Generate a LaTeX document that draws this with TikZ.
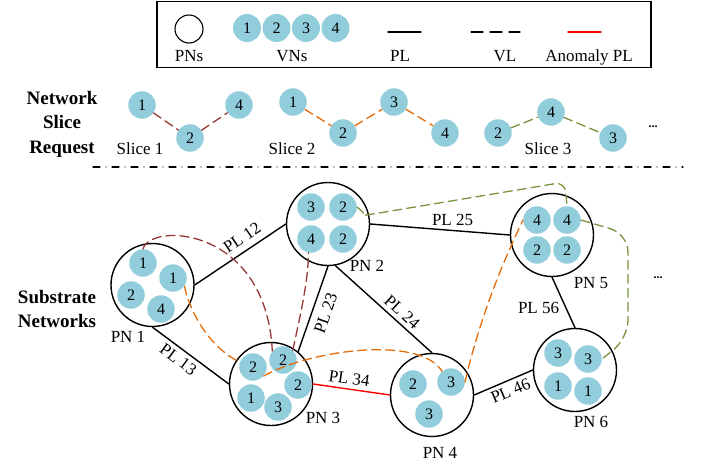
\documentclass[tikz,border=0pt]{standalone}
\usepackage{amsmath, amssymb}
\usepackage{fontspec}
\setmainfont{Liberation Serif}
\usepackage{tikz}

\begin{document}
\begin{tikzpicture}
		[x=1pt,y=-1pt,line cap=round,
		%Styles
		physical node/.style={circle,draw,line width=1.4pt,inner sep=0pt,minimum size=83pt},
		virtual node/.style={circle,fill=vnblue,inner sep=0pt,minimum size=27.5pt,font=\fontsize{16}{16}\selectfont},
		physical link/.style={line width=1.4pt},
		virtual link/.style={line width=1.3pt,dash pattern=on 9pt off 5pt},
		label text/.style={anchor=base,inner sep=0pt,font=\fontsize{17}{20}\selectfont},
		link text/.style={inner sep=4pt,font=\fontsize{17}{20}\selectfont},
		heading text/.style={align=center,inner sep=0pt,font=\fontsize{19}{24.5}\selectfont\bfseries},
		more/.style={inner sep=0pt,font=\fontsize{12}{12}\selectfont\bfseries}
		]
		
		%Colors
		\definecolor{vnblue}{RGB}{146,205,220}
		\definecolor{slicebrown}{RGB}{149,55,53}
		\definecolor{sliceorange}{RGB}{228,108,10}
		\definecolor{slicegreen}{RGB}{119,147,60}
		
		\useasboundingbox (0,0) rectangle (709,468);
		
		%Legend
		\draw[line width=1.5pt] (157,1.5) rectangle (651,67.5);
		\node[physical node,minimum size=28pt,line width=1.1pt] (legpn) at (189,29) {};
		\node[virtual node,minimum size=28pt] (legvn1) at (247,28) {1};
		\node[virtual node,minimum size=28pt] (legvn2) at (276.5,28) {2};
		\node[virtual node,minimum size=28pt] (legvn3) at (306,28) {3};
		\node[virtual node,minimum size=28pt] (legvn4) at (335.5,28) {4};
		\coordinate (legpla) at (388,32);
		\coordinate (legplb) at (421,32);
		\coordinate (legvla) at (471,32);
		\coordinate (legvlb) at (520,32);
		\coordinate (legapla) at (568,32);
		\coordinate (legaplb) at (601,32);
		\draw[physical link] (legpla) -- (legplb);
		\draw[line width=1.3pt,dash pattern=on 12pt off 7pt] (legvla) -- (legvlb);
		\draw[physical link,red] (legapla) -- (legaplb);
		\node[label text] (legpntext) at (189,62) {PNs};
		\node[label text] (legvntext) at (292,62) {VNs};
		\node[label text] (legpltext) at (400,62) {PL};
		\node[label text] (legvltext) at (505,62) {VL};
		\node[label text] (legapltext) at (589,62) {Anomaly PL};
		
		%Slice requests
		\node[heading text] (request) at (62,124) {Network\\Slice\\Request};
		\node[virtual node] (s1a) at (142,105) {1};
		\node[virtual node] (s1b) at (190,138) {2};
		\node[virtual node] (s1c) at (239,105) {4};
		\node[virtual node] (s2a) at (293,102) {1};
		\node[virtual node] (s2b) at (343,133) {2};
		\node[virtual node] (s2c) at (394,102) {3};
		\node[virtual node] (s2d) at (445,133) {4};
		\node[virtual node] (s3a) at (498,133) {2};
		\node[virtual node] (s3b) at (551,112) {4};
		\node[virtual node] (s3c) at (613,138) {3};
		\draw[virtual link,slicebrown] (s1a) -- (s1b) -- (s1c);
		\draw[virtual link,sliceorange] (s2a) -- (s2b) -- (s2c) -- (s2d);
		\draw[virtual link,slicegreen] (s3a) -- (s3b) -- (s3c);
		\node[label text] (slice1) at (140,154) {Slice 1};
		\node[label text] (slice2) at (292,154) {Slice 2};
		\node[label text] (slice3) at (548,154) {Slice 3};
		\node[more] (moreslices) at (653,127) {...};
		
		\coordinate (sepl) at (93,167);
		\coordinate (sepr) at (683,167);
		\draw[line width=1.3pt,dash pattern=on 7pt off 6pt on 0pt off 6pt] (sepl) -- (sepr);
		
		%Substrate network
		\node[heading text] (substrate) at (57,309) {Substrate\\Networks};
		
		\node[physical node] (pn1) at (152.5,285) {};
		\node[virtual node] (pn1a) at (143,263) {1};
		\node[virtual node] (pn1b) at (173,278) {1};
		\node[virtual node] (pn1c) at (131,295) {2};
		\node[virtual node] (pn1d) at (161,309) {4};
		
		\node[physical node] (pn2) at (328,224) {};
		\node[virtual node] (pn2a) at (311,207) {3};
		\node[virtual node] (pn2b) at (343,207) {2};
		\node[virtual node] (pn2c) at (311,239) {4};
		\node[virtual node] (pn2d) at (343,239) {2};
		
		\node[physical node] (pn3) at (271,384) {};
		\node[virtual node] (pn3a) at (253,367) {2};
		\node[virtual node] (pn3b) at (283,360) {2};
		\node[virtual node] (pn3c) at (298,385) {2};
		\node[virtual node] (pn3d) at (251,398) {1};
		\node[virtual node] (pn3e) at (278,407) {3};
		
		\node[physical node] (pn4) at (432,395) {};
		\node[virtual node] (pn4a) at (413,384) {2};
		\node[virtual node] (pn4b) at (451,382) {3};
		\node[virtual node] (pn4c) at (429,414) {3};
		
		\node[physical node] (pn5) at (552,235) {};
		\node[virtual node] (pn5a) at (537,220) {4};
		\node[virtual node] (pn5b) at (567,220) {4};
		\node[virtual node] (pn5c) at (537,250) {2};
		\node[virtual node] (pn5d) at (567,250) {2};
		
		\node[physical node] (pn6) at (575,370) {};
		\node[virtual node] (pn6a) at (558,353) {3};
		\node[virtual node] (pn6b) at (588,359) {3};
		\node[virtual node] (pn6c) at (558,386) {1};
		\node[virtual node] (pn6d) at (588,391) {1};
		
		\node[label text] (pn1text) at (128,342) {PN 1};
		\node[label text] (pn2text) at (367,271) {PN 2};
		\node[label text] (pn3text) at (323,423) {PN 3};
		\node[label text] (pn4text) at (440,458) {PN 4};
		\node[label text] (pn5text) at (591,288) {PN 5};
		\node[label text] (pn6text) at (591,427) {PN 6};
		\node[more] (morenodes) at (658,278) {...};
		
		%Physical links
		\draw[physical link] (pn1.east) -- node[link text,sloped,above=3pt,pos=0.6] (pl12) {PL 12} (pn2.west);
		\draw[physical link] (pn1.south) -- node[link text,sloped,below,pos=0.42] (pl13) {PL 13} (pn3.west);
		\draw[physical link] (pn3.50) -- node[link text,sloped,below=3pt] (pl23) {PL 23} (pn2.south);
		\draw[physical link] (pn2.-80) -- node[link text,sloped,above,pos=0.62] (pl24) {PL 24} (pn4.north);
		\draw[physical link] (pn2.east) -- node[link text,above,pos=0.59] (pl25) {PL 25} (pn5.west);
		\draw[physical link,red] (pn3.east) -- node[link text,sloped,above,black,pos=0.45] (pl34) {PL 34} (pn4.west);
		\draw[physical link] (pn4.east) -- node[link text,sloped,below,pos=0.55] (pl46) {PL 46} (pn6.west);
		\draw[physical link] (pn5.south) -- node[link text,left,pos=0.6,xshift=-2pt] (pl56) {PL 56} (pn6.north);
		
		%Virtual links
		\draw[virtual link,slicebrown] (pn1a.north) .. controls (150,222) and (266,226) .. (pn3b.140);
		\draw[virtual link,slicebrown] (pn3b.45) .. controls (298,325) and (308,285) .. (pn2c.-100);
		\draw[virtual link,sliceorange] (pn1b.-35) .. controls (188,305) and (205,345) .. (pn3a.160);
		\draw[virtual link,sliceorange] (pn3a.-40) .. controls (310,350) and (420,335) .. (pn4b.130);
		\draw[virtual link,sliceorange] (pn4b.east) .. controls (478,326) and (498,272) .. (pn5a.west);
		\draw[virtual link,slicegreen,rounded corners=10pt] (pn2b.east) .. controls (362,211) and (366,215) .. (373,214) -- (565,182) -- (pn5b.north);
		\draw[virtual link,slicegreen,rounded corners=18pt] (pn5b.east) -- (628,234) -- (628,338) -- (pn6b.east);
	\end{tikzpicture}
\end{document}
